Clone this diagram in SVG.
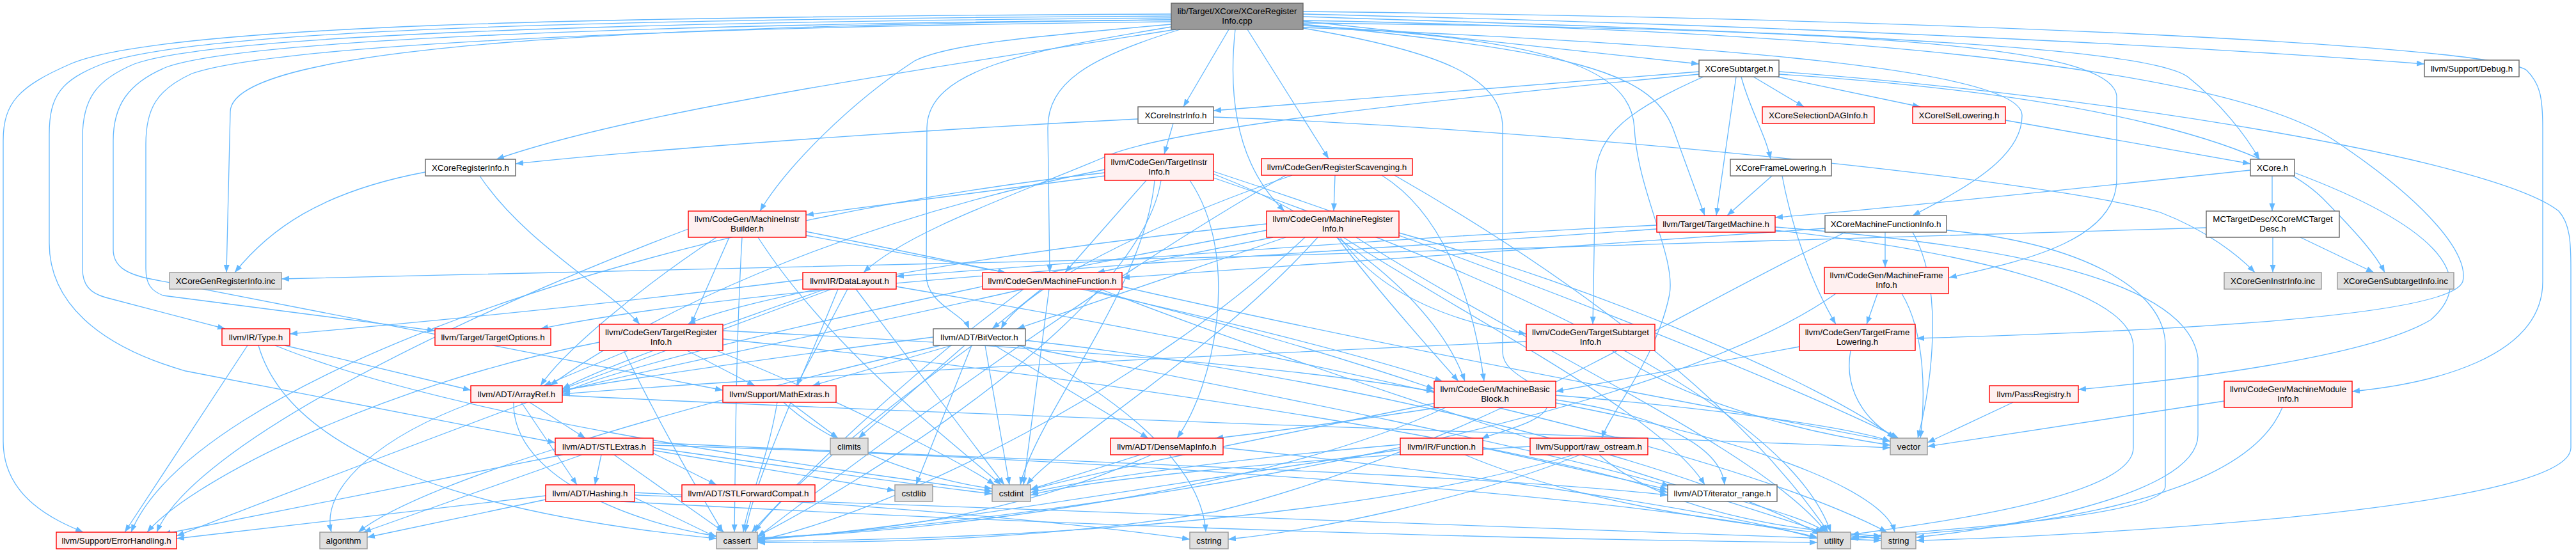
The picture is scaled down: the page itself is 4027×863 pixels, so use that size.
<svg xmlns="http://www.w3.org/2000/svg" width="4027" height="863" viewBox="0 0 4027 863">
<style>
rect{stroke-width:1.4}
.r{fill:#fff0f0;stroke:#ff0000}
.w{fill:#ffffff;stroke:#666666}
.g{fill:#e0e0e0;stroke:#999999}
.m{fill:#999999;stroke:#666666}
text{font-family:"Liberation Sans",Arial,sans-serif;font-size:13.33px;text-anchor:middle;fill:#000}
.edges path{fill:none;stroke:#63b8ff;stroke-width:1.3;marker-end:url(#a)}
</style>
<defs>
<marker id="a" markerUnits="userSpaceOnUse" markerWidth="13" markerHeight="10" refX="12" refY="4.5" orient="auto">
<path d="M0,0 L12,4.5 L0,9 z" fill="#63b8ff" stroke="none"/>
</marker>
</defs>
<rect width="4027" height="863" fill="#ffffff"/>
<g id="edges" class="edges">
<path d="M1838,46 C1500,100 1000,170 776,249"/>
<path d="M1831,31 C1000,40 360,70 360,175 L354,426"/>
<path d="M1831,22 C900,26 250,40 110,100 C30,135 5,160 5,220 L5,690 C5,780 90,815 130,832"/>
<path d="M1831,25 C900,30 300,48 160,100 C95,125 77,150 77,210 L77,380 C77,470 150,540 290,580 L868,692"/>
<path d="M1831,28 C950,34 330,56 210,100 C150,125 129,155 129,215 L129,420 C129,445 140,458 165,465 L352,514"/>
<path d="M1831,31 C1000,38 380,62 260,105 C200,130 177,165 177,220 L177,390 C177,415 195,428 235,436 L1130,610"/>
<path d="M1831,34 C1050,42 430,70 300,115 C245,140 228,170 228,225 L228,420 C228,445 237,455 255,462 L680,517"/>
<path d="M1831,38 C1600,58 1480,70 1430,95 C1330,160 1230,260 1188,330"/>
<path d="M1831,42 C1600,80 1450,110 1449,200 L1448,430 C1448,475 1505,490 1515,514"/>
<path d="M1845,46 C1700,90 1638,130 1638,200 L1641,426"/>
<path d="M1921,46 L1850,167"/>
<path d="M1931,46 C1922,130 1925,250 2008,330"/>
<path d="M1950,46 L2077,248"/>
<path d="M2037,33 L2656,100"/>
<path d="M2037,38 C2450,80 2580,110 2615,200 L2665,337"/>
<path d="M2037,44 C2250,80 2349,120 2349,200 L2349,550 C2349,590 2420,600 2420,630 C2420,660 2340,675 2316,686"/>
<path d="M2037,40 C2400,60 2550,100 2555,200 C2560,300 2620,400 2610,460 C2590,560 2520,640 2504,685"/>
<path d="M2037,43 C2700,70 3160,110 3161,180 C3162,250 3060,300 2990,337"/>
<path d="M2037,36 C2900,45 3300,70 3309,150 L3309,280 C3309,380 3150,410 3047,434"/>
<path d="M2037,32 C3000,50 3500,120 3650,220 C3800,320 3860,400 3850,440 C3830,500 3300,520 2996,529"/>
<path d="M2037,26 C2800,50 3350,70 3420,120 C3470,160 3510,210 3532,249"/>
<path d="M2037,22 C2800,40 3400,70 3790,100"/>
<path d="M2037,18 C3000,28 3900,70 3950,110 C3970,130 3975,150 3975,200 L3975,440 C3975,560 3800,600 3677,612"/>
<path d="M750,275 C820,380 950,450 1000,507"/>
<path d="M665,269 C500,300 420,360 367,426"/>
<path d="M1779,186 C1400,205 1000,235 806,256"/>
<path d="M1834,193 L1820,241"/>
<path d="M1897,183 C2400,200 3200,280 3377,332 C3450,360 3500,400 3525,426"/>
<path d="M1727,275 L1260,336"/>
<path d="M1727,265 C1300,350 1000,500 860,603"/>
<path d="M1792,282 L1665,426"/>
<path d="M1897,272 C2100,350 2250,480 2290,596"/>
<path d="M1860,282 C1940,400 1900,600 1840,685"/>
<path d="M1727,270 C1000,350 300,600 205,832"/>
<path d="M1815,282 C1780,500 1300,780 1184,838"/>
<path d="M1805,282 C1790,450 1620,650 1595,758"/>
<path d="M1897,278 C2400,450 2800,650 2862,832"/>
<path d="M1897,268 C2300,400 2800,600 2968,685"/>
<path d="M1120,371 C1000,450 880,550 845,603"/>
<path d="M1260,362 C1700,450 2050,530 2255,596"/>
<path d="M1260,368 L1572,426"/>
<path d="M1140,371 L1080,507"/>
<path d="M1076,358 C700,500 300,700 245,832"/>
<path d="M1160,371 C1150,550 1150,700 1148,832"/>
<path d="M1185,371 C1300,550 1500,700 1565,758"/>
<path d="M1255,437 C1000,470 700,500 453,522"/>
<path d="M1290,452 C1100,520 950,570 879,608"/>
<path d="M1300,452 C900,600 500,750 276,838"/>
<path d="M1325,452 L1245,603"/>
<path d="M1310,452 C1250,600 1180,750 1165,832"/>
<path d="M1338,452 L1570,758"/>
<path d="M1401,448 C2000,550 2700,700 2950,832"/>
<path d="M1600,452 C1300,520 1000,580 879,612"/>
<path d="M1628,452 L1551,514"/>
<path d="M1700,452 C1900,500 2100,560 2242,608"/>
<path d="M1600,452 C1400,600 1250,750 1175,832"/>
<path d="M1640,452 L1600,758"/>
<path d="M1720,452 C2100,600 2600,750 2850,832"/>
<path d="M1754,448 C2200,550 2700,640 2955,690"/>
<path d="M2020,274 C1800,350 1600,450 1565,514"/>
<path d="M2087,274 L2085,330"/>
<path d="M2160,274 C2250,330 2300,450 2320,596"/>
<path d="M2010,274 C1700,450 1300,750 1184,840"/>
<path d="M2180,274 C2400,400 2700,600 2858,832"/>
<path d="M1980,360 C1500,450 1000,560 879,614"/>
<path d="M2010,371 L1590,514"/>
<path d="M2100,371 C2300,500 2600,650 2665,758"/>
<path d="M2090,371 C2150,450 2230,540 2280,596"/>
<path d="M1990,371 L1715,426"/>
<path d="M1980,350 C1500,400 1150,470 1075,507"/>
<path d="M2095,371 C2150,450 2250,500 2386,522"/>
<path d="M2040,371 C1800,600 1400,800 1184,845"/>
<path d="M2060,371 C1900,550 1650,700 1605,758"/>
<path d="M2120,371 C2400,550 2750,700 2855,832"/>
<path d="M2187,364 C2500,450 2850,600 2962,685"/>
<path d="M2656,112 L1897,173"/>
<path d="M2656,116 C2200,160 1850,200 1740,240 C1600,300 1420,360 1350,426"/>
<path d="M2663,120 C2550,170 2494,210 2494,280 L2490,507"/>
<path d="M2714,120 L2683,337"/>
<path d="M2722,120 C2735,170 2760,210 2768,249"/>
<path d="M2741,120 L2820,167"/>
<path d="M2778,120 L3002,167"/>
<path d="M2781,112 C3300,150 3900,250 4000,330 C4018,350 4019,380 4019,420 L4019,700 C4019,800 3200,840 2996,845"/>
<path d="M2781,116 C3300,150 3550,230 3631,310 C3690,370 3715,400 3728,426"/>
<path d="M3135,188 L3518,256"/>
<path d="M2770,275 L2700,337"/>
<path d="M2786,275 C2800,350 2830,440 2870,507"/>
<path d="M2590,352 C2200,370 1700,410 1401,432"/>
<path d="M2590,358 C2000,400 1200,440 845,514"/>
<path d="M2775,355 C3100,380 3420,430 3436,560 L3436,680 C3436,780 3100,830 2996,840"/>
<path d="M2775,360 C3050,390 3330,450 3335,540 L3335,700 C3335,780 3000,820 2894,836"/>
<path d="M2947,363 L2947,418"/>
<path d="M2853,357 C2400,390 2000,420 1754,434"/>
<path d="M2885,363 C2600,500 2300,700 1900,800 C1600,850 1300,848 1184,848"/>
<path d="M3043,360 C3250,380 3385,450 3385,540 L3385,760 C3385,810 3000,830 2894,840"/>
<path d="M2990,363 C3040,450 3020,600 2998,685"/>
<path d="M2935,459 L2918,507"/>
<path d="M2870,459 C2600,650 1800,800 1184,843"/>
<path d="M2973,459 C3010,520 3010,620 3002,685"/>
<path d="M2813,542 L2432,612"/>
<path d="M2893,548 C2880,620 2930,670 2968,685"/>
<path d="M2386,534 C1800,560 1200,590 879,616"/>
<path d="M2520,548 C2650,640 2850,680 2955,696"/>
<path d="M2250,637 C2100,660 1950,680 1900,685"/>
<path d="M2432,625 C2600,650 2690,700 2696,758"/>
<path d="M2260,637 C2000,760 1500,830 1184,841"/>
<path d="M2245,630 C2000,680 1700,740 1611,766"/>
<path d="M2432,630 C2800,700 2950,780 2962,832"/>
<path d="M2432,618 C2700,640 2900,670 2955,690"/>
<path d="M2318,700 L2607,765"/>
<path d="M2189,703 C1800,760 1400,830 1184,844"/>
<path d="M2189,695 C1900,720 1700,750 1611,770"/>
<path d="M2290,711 C2500,800 2800,830 2941,842"/>
<path d="M2460,711 C2100,820 1500,845 1184,846"/>
<path d="M2392,698 C2000,720 1700,750 1611,774"/>
<path d="M2470,711 C2300,780 2050,830 1920,843"/>
<path d="M2500,711 C2600,800 2800,830 2941,838"/>
<path d="M2725,784 C2780,800 2830,815 2855,832"/>
<path d="M3552,275 L3552,330"/>
<path d="M3518,266 C3200,300 2900,330 2775,340"/>
<path d="M3587,270 C3800,350 3880,430 3800,500 C3700,560 3400,595 3249,609"/>
<path d="M3449,356 C2600,385 1300,420 440,436"/>
<path d="M3553,371 L3553,426"/>
<path d="M3596,371 L3711,426"/>
<path d="M445,540 L736,610"/>
<path d="M387,540 L195,832"/>
<path d="M404,540 C450,700 700,800 1120,842"/>
<path d="M430,540 C700,650 1200,720 1551,768"/>
<path d="M982,548 L850,603"/>
<path d="M1130,530 C1800,600 2400,700 2607,770"/>
<path d="M1130,517 C1600,540 2000,570 2242,612"/>
<path d="M937,535 C600,600 300,750 230,832"/>
<path d="M1074,548 L1180,603"/>
<path d="M975,548 C1050,700 1100,780 1130,832"/>
<path d="M1120,548 C1300,620 1500,720 1555,758"/>
<path d="M815,629 L902,758"/>
<path d="M828,629 L915,685"/>
<path d="M740,629 C600,680 500,760 518,832"/>
<path d="M803,629 C800,750 1000,820 1120,838"/>
<path d="M879,618 C1500,650 2500,680 2955,700"/>
<path d="M940,711 L930,758"/>
<path d="M1020,708 L1120,758"/>
<path d="M1021,692 C1600,720 2300,740 2607,774"/>
<path d="M880,711 L255,835"/>
<path d="M910,711 L568,832"/>
<path d="M960,711 L1132,832"/>
<path d="M1021,700 C1300,740 1450,760 1551,772"/>
<path d="M1021,704 L1399,767"/>
<path d="M1021,696 C1800,720 2600,780 2841,840"/>
<path d="M853,775 L276,842"/>
<path d="M853,781 L574,840"/>
<path d="M992,778 L1120,840"/>
<path d="M992,770 C1400,790 1700,820 1860,843"/>
<path d="M992,774 C1800,800 2600,830 2941,845"/>
<path d="M970,784 C1800,830 2500,845 2841,848"/>
<path d="M1459,527 C1200,560 1000,590 879,610"/>
<path d="M1555,540 L1795,685"/>
<path d="M1590,540 C2000,620 2400,700 2610,760"/>
<path d="M1488,540 L1270,603"/>
<path d="M1470,540 C1000,650 650,760 560,832"/>
<path d="M1520,540 C1300,700 1200,800 1180,832"/>
<path d="M1508,540 L1342,685"/>
<path d="M1540,540 L1578,758"/>
<path d="M1519,540 L1432,758"/>
<path d="M1595,540 C1800,650 1880,750 1885,832"/>
<path d="M1603,532 C2200,600 2700,750 2845,836"/>
<path d="M1215,629 C1200,720 1170,780 1162,832"/>
<path d="M1235,629 L1310,685"/>
<path d="M1225,629 C1300,700 1450,750 1551,764"/>
<path d="M1800,711 C1600,800 1400,830 1184,842"/>
<path d="M1783,711 L1611,765"/>
<path d="M1912,700 C2300,740 2700,800 2841,842"/>
<path d="M3147,629 L3013,692"/>
<path d="M3477,627 L3013,698"/>
<path d="M3568,637 C3500,800 3100,830 2893,842"/>
</g>
<g id="nodes">
<g id="n1"><rect class="m" x="1831" y="5" width="206" height="41"/><text x="1934" y="22">lib/Target/XCore/XCoreRegister</text><text x="1934" y="37">Info.cpp</text></g>
<g id="n2"><rect class="w" x="665" y="249" width="141" height="26"/><text x="735.5" y="266.5">XCoreRegisterInfo.h</text></g>
<g id="n3"><rect class="g" x="265" y="426" width="175" height="26"/><text x="352.5" y="443.5">XCoreGenRegisterInfo.inc</text></g>
<g id="n4"><rect class="w" x="1779" y="167" width="118" height="26"/><text x="1838" y="184.5">XCoreInstrInfo.h</text></g>
<g id="n5"><rect class="r" x="1727" y="241" width="170" height="41"/><text x="1812" y="258">llvm/CodeGen/TargetInstr</text><text x="1812" y="273">Info.h</text></g>
<g id="n6"><rect class="r" x="1076" y="330" width="184" height="41"/><text x="1168" y="347">llvm/CodeGen/MachineInstr</text><text x="1168" y="362">Builder.h</text></g>
<g id="n7"><rect class="r" x="1255" y="426" width="146" height="26"/><text x="1328" y="443.5">llvm/IR/DataLayout.h</text></g>
<g id="n8"><rect class="r" x="1536" y="426" width="218" height="26"/><text x="1645" y="443.5">llvm/CodeGen/MachineFunction.h</text></g>
<g id="n9"><rect class="r" x="1972" y="248" width="236" height="26"/><text x="2090" y="265.5">llvm/CodeGen/RegisterScavenging.h</text></g>
<g id="n10"><rect class="r" x="1980" y="330" width="207" height="41"/><text x="2083.5" y="347">llvm/CodeGen/MachineRegister</text><text x="2083.5" y="362">Info.h</text></g>
<g id="n11"><rect class="w" x="2656" y="94" width="125" height="26"/><text x="2718.5" y="111.5">XCoreSubtarget.h</text></g>
<g id="n12"><rect class="r" x="2755" y="167" width="175" height="26"/><text x="2842.5" y="184.5">XCoreSelectionDAGInfo.h</text></g>
<g id="n13"><rect class="r" x="2990" y="167" width="145" height="26"/><text x="3062.5" y="184.5">XCoreISelLowering.h</text></g>
<g id="n14"><rect class="w" x="2705" y="249" width="158" height="26"/><text x="2784" y="266.5">XCoreFrameLowering.h</text></g>
<g id="n15"><rect class="r" x="2590" y="337" width="185" height="26"/><text x="2682.5" y="354.5">llvm/Target/TargetMachine.h</text></g>
<g id="n16"><rect class="w" x="2853" y="337" width="190" height="26"/><text x="2948" y="354.5">XCoreMachineFunctionInfo.h</text></g>
<g id="n17"><rect class="r" x="2852" y="418" width="194" height="41"/><text x="2949" y="435">llvm/CodeGen/MachineFrame</text><text x="2949" y="450">Info.h</text></g>
<g id="n18"><rect class="w" x="3790" y="94" width="148" height="26"/><text x="3864" y="111.5">llvm/Support/Debug.h</text></g>
<g id="n19"><rect class="w" x="3518" y="249" width="69" height="26"/><text x="3552.5" y="266.5">XCore.h</text></g>
<g id="n20"><rect class="w" x="3449" y="330" width="208" height="41"/><text x="3553" y="347">MCTargetDesc/XCoreMCTarget</text><text x="3553" y="362">Desc.h</text></g>
<g id="n21"><rect class="g" x="3477" y="426" width="152" height="26"/><text x="3553" y="443.5">XCoreGenInstrInfo.inc</text></g>
<g id="n22"><rect class="g" x="3654" y="426" width="182" height="26"/><text x="3745" y="443.5">XCoreGenSubtargetInfo.inc</text></g>
<g id="n23"><rect class="r" x="347" y="514" width="106" height="26"/><text x="400" y="531.5">llvm/IR/Type.h</text></g>
<g id="n24"><rect class="r" x="680" y="514" width="181" height="26"/><text x="770.5" y="531.5">llvm/Target/TargetOptions.h</text></g>
<g id="n25"><rect class="r" x="937" y="507" width="193" height="41"/><text x="1033.5" y="524">llvm/CodeGen/TargetRegister</text><text x="1033.5" y="539">Info.h</text></g>
<g id="n26"><rect class="r" x="736" y="603" width="143" height="26"/><text x="807.5" y="620.5">llvm/ADT/ArrayRef.h</text></g>
<g id="n27"><rect class="r" x="868" y="685" width="153" height="26"/><text x="944.5" y="702.5">llvm/ADT/STLExtras.h</text></g>
<g id="n28"><rect class="r" x="853" y="758" width="139" height="26"/><text x="922.5" y="775.5">llvm/ADT/Hashing.h</text></g>
<g id="n29"><rect class="r" x="88" y="832" width="188" height="26"/><text x="182" y="849.5">llvm/Support/ErrorHandling.h</text></g>
<g id="n30"><rect class="g" x="500" y="832" width="74" height="26"/><text x="537" y="849.5">algorithm</text></g>
<g id="n31"><rect class="w" x="1459" y="514" width="144" height="26"/><text x="1531" y="531.5">llvm/ADT/BitVector.h</text></g>
<g id="n32"><rect class="r" x="1130" y="603" width="177" height="26"/><text x="1218.5" y="620.5">llvm/Support/MathExtras.h</text></g>
<g id="n33"><rect class="g" x="1298" y="685" width="59" height="26"/><text x="1327.5" y="702.5">climits</text></g>
<g id="n34"><rect class="r" x="1736" y="685" width="176" height="26"/><text x="1824" y="702.5">llvm/ADT/DenseMapInfo.h</text></g>
<g id="n35"><rect class="r" x="1066" y="758" width="208" height="26"/><text x="1170" y="775.5">llvm/ADT/STLForwardCompat.h</text></g>
<g id="n36"><rect class="g" x="1399" y="758" width="59" height="26"/><text x="1428.5" y="775.5">cstdlib</text></g>
<g id="n37"><rect class="g" x="1551" y="758" width="60" height="26"/><text x="1581" y="775.5">cstdint</text></g>
<g id="n38"><rect class="g" x="1120" y="832" width="64" height="26"/><text x="1152" y="849.5">cassert</text></g>
<g id="n39"><rect class="g" x="1860" y="832" width="60" height="26"/><text x="1890" y="849.5">cstring</text></g>
<g id="n40"><rect class="r" x="2386" y="507" width="201" height="41"/><text x="2486.5" y="524">llvm/CodeGen/TargetSubtarget</text><text x="2486.5" y="539">Info.h</text></g>
<g id="n41"><rect class="r" x="2813" y="507" width="181" height="41"/><text x="2903.5" y="524">llvm/CodeGen/TargetFrame</text><text x="2903.5" y="539">Lowering.h</text></g>
<g id="n42"><rect class="r" x="2242" y="596" width="190" height="41"/><text x="2337" y="613">llvm/CodeGen/MachineBasic</text><text x="2337" y="628">Block.h</text></g>
<g id="n43"><rect class="g" x="2955" y="685" width="58" height="26"/><text x="2984" y="702.5">vector</text></g>
<g id="n44"><rect class="r" x="2189" y="685" width="129" height="26"/><text x="2253.5" y="702.5">llvm/IR/Function.h</text></g>
<g id="n45"><rect class="r" x="2392" y="685" width="184" height="26"/><text x="2484" y="702.5">llvm/Support/raw_ostream.h</text></g>
<g id="n46"><rect class="w" x="2607" y="758" width="171" height="26"/><text x="2692.5" y="775.5">llvm/ADT/iterator_range.h</text></g>
<g id="n47"><rect class="g" x="2841" y="832" width="52" height="26"/><text x="2867" y="849.5">utility</text></g>
<g id="n48"><rect class="g" x="2941" y="832" width="54" height="26"/><text x="2968" y="849.5">string</text></g>
<g id="n49"><rect class="r" x="3110" y="603" width="139" height="26"/><text x="3179.5" y="620.5">llvm/PassRegistry.h</text></g>
<g id="n50"><rect class="r" x="3477" y="596" width="200" height="41"/><text x="3577" y="613">llvm/CodeGen/MachineModule</text><text x="3577" y="628">Info.h</text></g>
</g>
</svg>
